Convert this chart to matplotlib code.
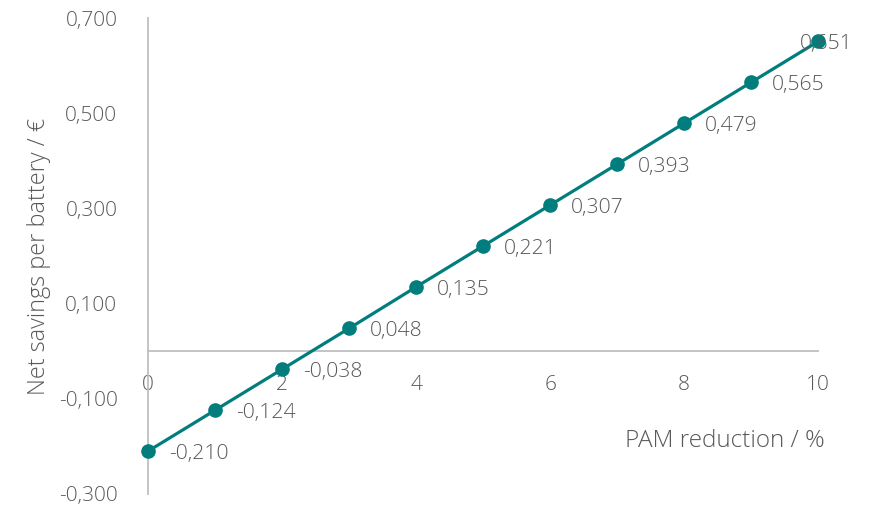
import matplotlib.pyplot as plt
from matplotlib import font_manager

# data
pam_reduction = [0, 1, 2, 3, 4, 5, 6, 7, 8, 9, 10]
net_savings = [-0.210, -0.124, -0.038, 0.048, 0.135, 0.221, 0.307, 0.393, 0.479, 0.565, 0.651]
y_ticks = [-0.3, -0.1, 0.1, 0.3, 0.5, 0.7]
x_ticks = [0, 2, 4, 6, 8, 10]

names = {f.name for f in font_manager.fontManager.ttflist}
fam = 'Open Sans' if 'Open Sans' in names else 'DejaVu Sans'
plt.rcParams['font.family'] = [fam, 'DejaVu Sans']

gray = '#595959'
teal = '#007D7C'

fig = plt.figure(figsize=(8.76, 5.09), dpi=100)
ax = fig.add_axes([0.169, 0.0295, 0.765, 0.935])

ax.plot(pam_reduction, net_savings, color=teal, lw=2.3, marker='o', ms=9.5,
        clip_on=False, zorder=3)

for i, (x, y) in enumerate(zip(pam_reduction, net_savings)):
    lbl = '{:.3f}'.format(y).replace('.', ',')
    if i == len(pam_reduction) - 1:
        ax.annotate(lbl, (x, y), xytext=(-13, -2), textcoords='offset points',
                    ha='left', va='center', fontsize=15.2, color=gray, weight='light')
    else:
        ax.annotate(lbl, (x, y), xytext=(15, -2), textcoords='offset points',
                    ha='left', va='center', fontsize=15.2, color=gray, weight='light')

ax.set_xlim(0, 10)
ax.set_ylim(-0.3, 0.7)
ax.set_xticks(x_ticks)
ax.set_yticks(y_ticks)
ax.set_yticklabels(['{:.3f}'.format(v).replace('.', ',') for v in y_ticks])

for s in ['top', 'right']:
    ax.spines[s].set_visible(False)
ax.spines['bottom'].set_position(('data', 0))
ax.spines['bottom'].set_color('#BFBFBF')
ax.spines['left'].set_color('#BFBFBF')
ax.spines['bottom'].set_linewidth(1.3)
ax.spines['left'].set_linewidth(1.3)

ax.tick_params(axis='both', length=0, labelsize=15, labelcolor=gray)
ax.tick_params(axis='x', pad=17)
ax.tick_params(axis='y', pad=22)
for t in ax.get_xticklabels() + ax.get_yticklabels():
    t.set_fontweight('light')

ax.set_ylabel('Net savings per battery / €', fontsize=16.8, color=gray, weight='light',
              va='center')
ax.yaxis.set_label_coords(-0.163, 0.5)
ax.set_xlabel('PAM reduction / %', fontsize=17.5, color=gray, weight='light',
              ha='right', va='center')
ax.xaxis.set_label_coords(1.01, 0.111)

fig.savefig('out.png', dpi=100)
